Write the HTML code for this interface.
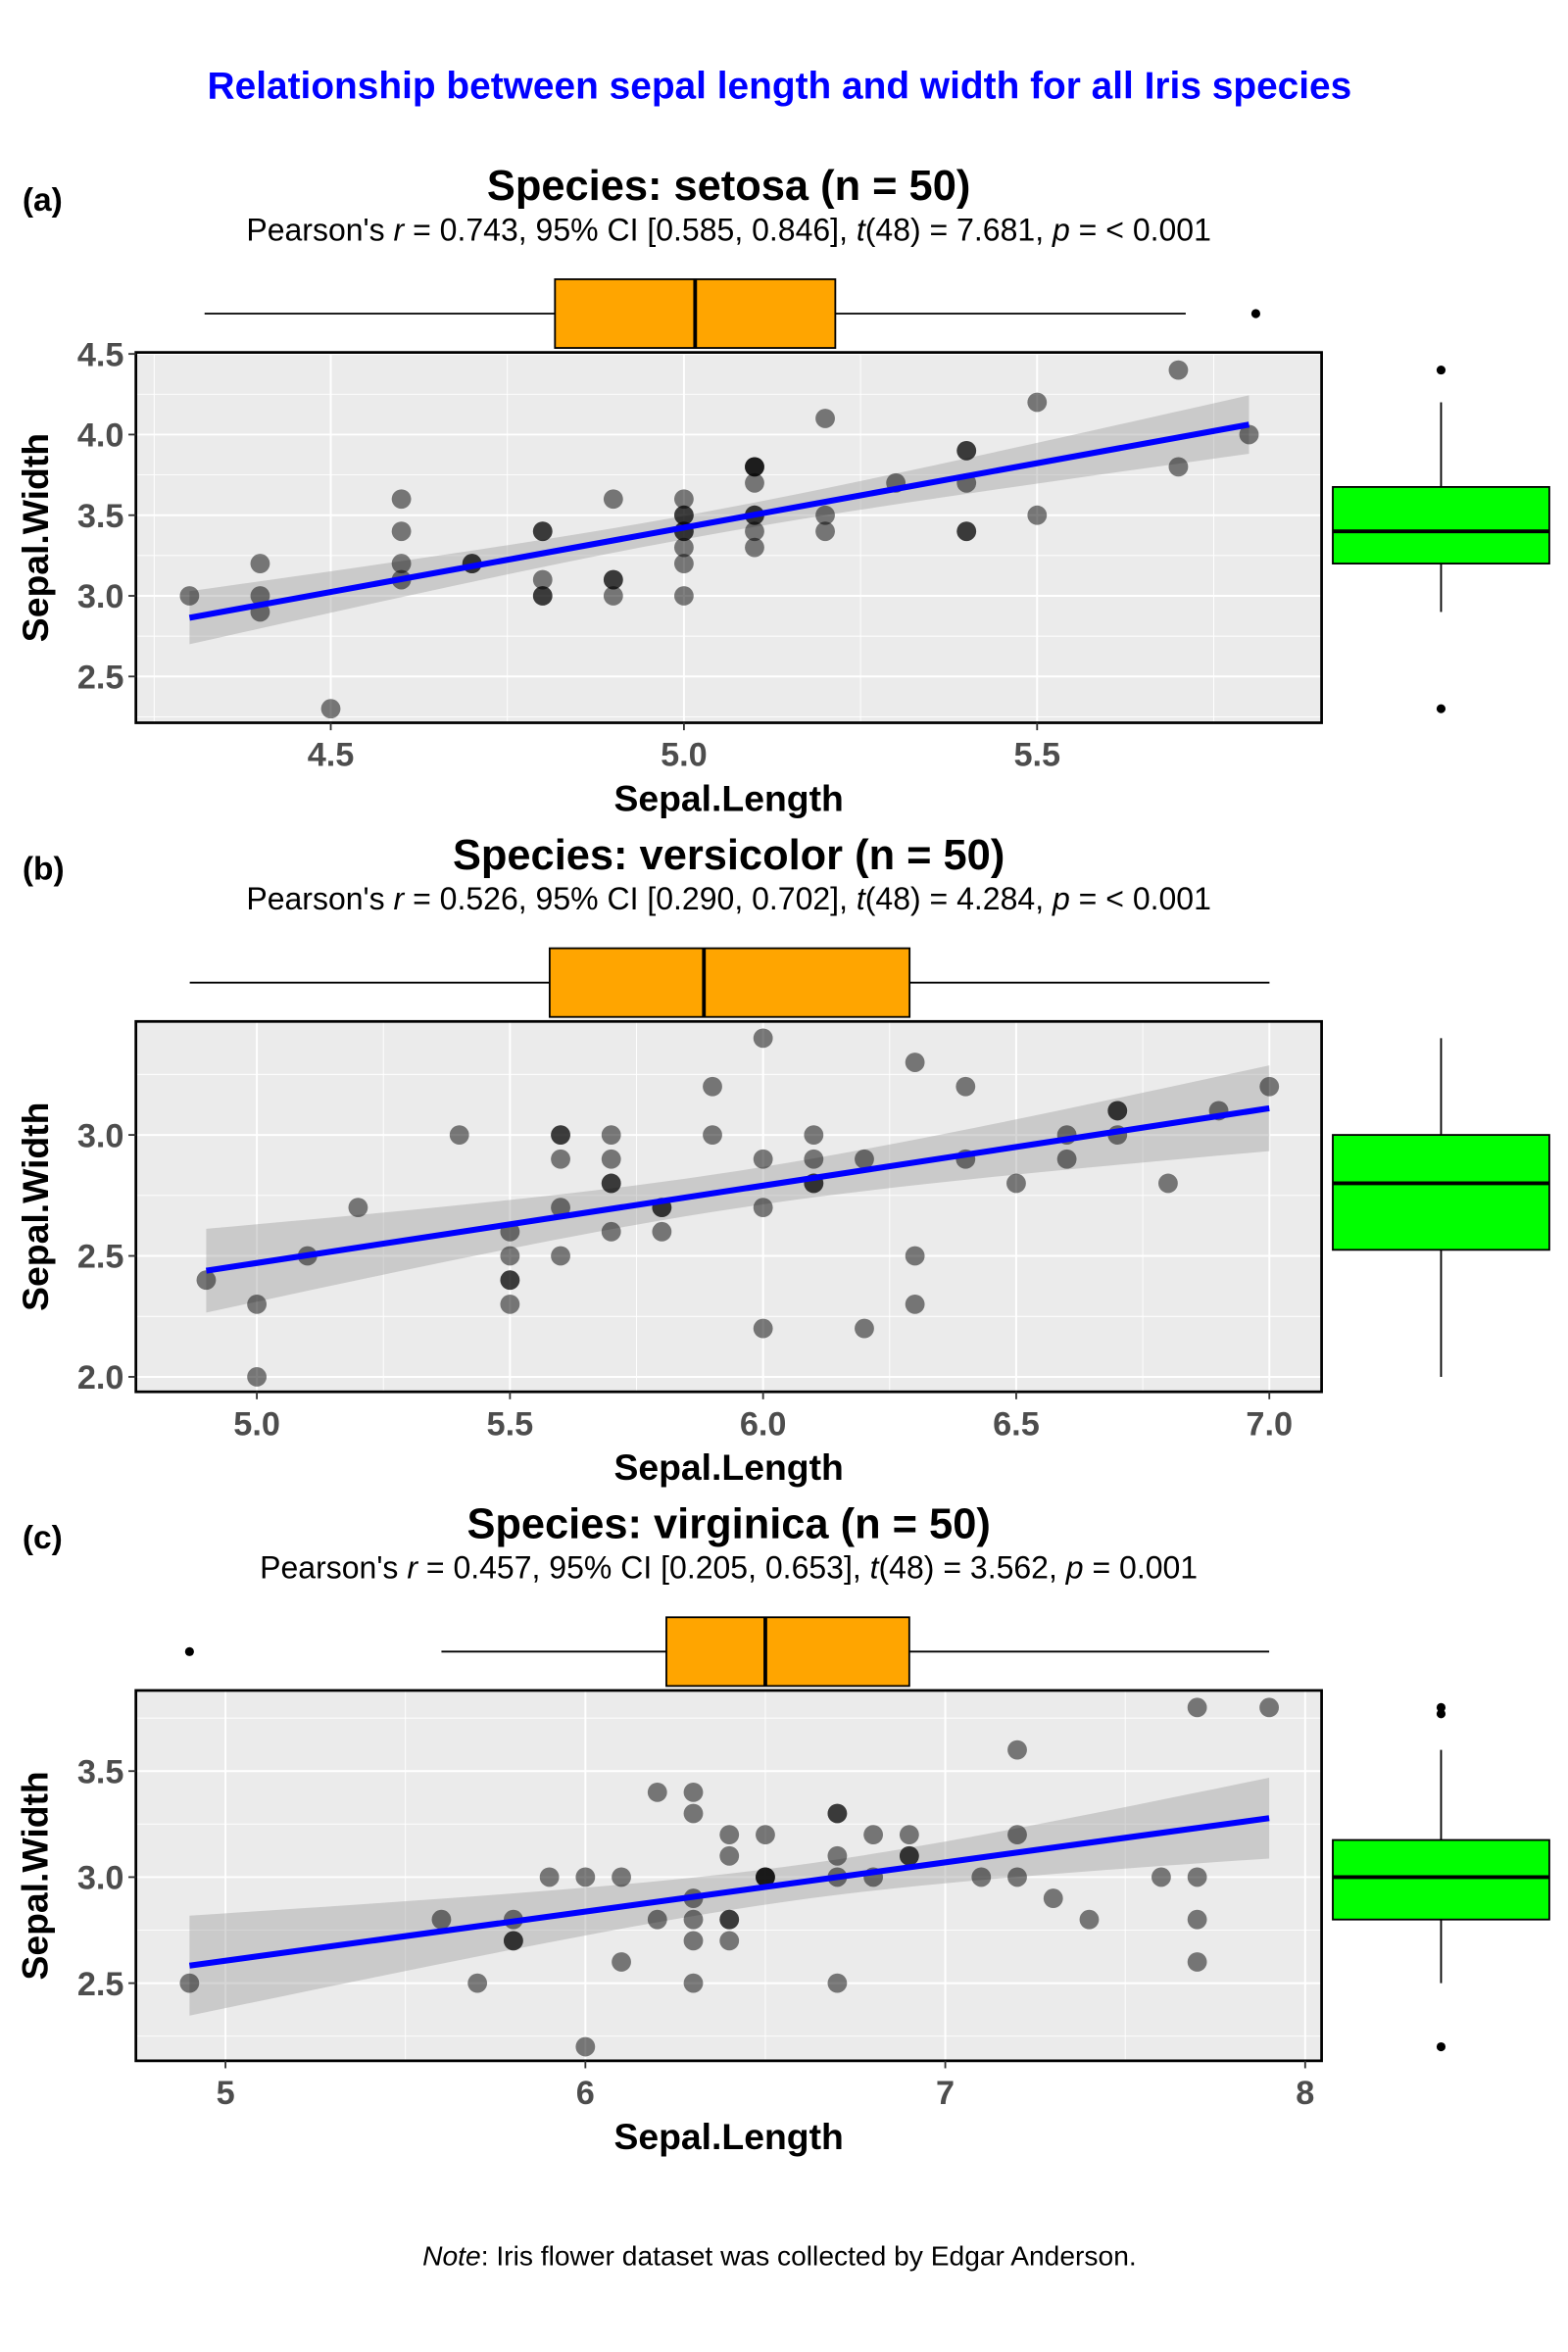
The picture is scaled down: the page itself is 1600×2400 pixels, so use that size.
<!DOCTYPE html>
<html><head><meta charset="utf-8">
<style>
html,body{margin:0;padding:0;background:#fff;}
svg{display:block;font-family:"Liberation Sans",Arial,sans-serif;}
</style></head>
<body>
<svg id="chart" width="1600" height="2400" viewBox="0 0 1050 1575" xmlns="http://www.w3.org/2000/svg">
<rect width="1050" height="1575" fill="#fff"/>
<text x="522" y="66" text-anchor="middle" font-size="25.5" font-weight="bold" fill="#0000ff">Relationship between sepal length and width for all Iris species</text>
<text x="522" y="1517" text-anchor="middle" font-size="18.5"><tspan font-style="italic">Note</tspan>: Iris flower dataset was collected by Edgar Anderson.</text>
</svg>
<script>
// ---- data ----
const setosaSL=[5.1,4.9,4.7,4.6,5.0,5.4,4.6,5.0,4.4,4.9,5.4,4.8,4.8,4.3,5.8,5.7,5.4,5.1,5.7,5.1,5.4,5.1,4.6,5.1,4.8,5.0,5.0,5.2,5.2,4.7,4.8,5.4,5.2,5.5,4.9,5.0,5.5,4.9,4.4,5.1,5.0,4.5,4.4,5.0,5.1,4.8,5.1,4.6,5.3,5.0];
const setosaSW=[3.5,3.0,3.2,3.1,3.6,3.9,3.4,3.4,2.9,3.1,3.7,3.4,3.0,3.0,4.0,4.4,3.9,3.5,3.8,3.8,3.4,3.7,3.6,3.3,3.4,3.0,3.4,3.5,3.4,3.2,3.1,3.4,4.1,4.2,3.1,3.2,3.5,3.6,3.0,3.4,3.5,2.3,3.2,3.5,3.8,3.0,3.8,3.2,3.7,3.3];
const versiSL=[7.0,6.4,6.9,5.5,6.5,5.7,6.3,4.9,6.6,5.2,5.0,5.9,6.0,6.1,5.6,6.7,5.6,5.8,6.2,5.6,5.9,6.1,6.3,6.1,6.4,6.6,6.8,6.7,6.0,5.7,5.5,5.5,5.8,6.0,5.4,6.0,6.7,6.3,5.6,5.5,5.5,6.1,5.8,5.0,5.6,5.7,5.7,6.2,5.1,5.7];
const versiSW=[3.2,3.2,3.1,2.3,2.8,2.8,3.3,2.4,2.9,2.7,2.0,3.0,2.2,2.9,2.9,3.1,3.0,2.7,2.2,2.5,3.2,2.8,2.5,2.8,2.9,3.0,2.8,3.0,2.9,2.6,2.4,2.4,2.7,2.7,3.0,3.4,3.1,2.3,3.0,2.5,2.6,3.0,2.6,2.3,2.7,3.0,2.9,2.9,2.5,2.8];
const virgSL=[6.3,5.8,7.1,6.3,6.5,7.6,4.9,7.3,6.7,7.2,6.5,6.4,6.8,5.7,5.8,6.4,6.5,7.7,7.7,6.0,6.9,5.6,7.7,6.3,6.7,7.2,6.2,6.1,6.4,7.2,7.4,7.9,6.4,6.3,6.1,7.7,6.3,6.4,6.0,6.9,6.7,6.9,5.8,6.8,6.7,6.7,6.3,6.5,6.2,5.9];
const virgSW=[3.3,2.7,3.0,2.9,3.0,3.0,2.5,2.9,2.5,3.6,3.2,2.7,3.0,2.5,2.8,3.2,3.0,3.8,2.6,2.2,3.2,2.8,2.8,2.7,3.3,3.2,2.8,3.0,2.8,3.0,2.8,3.8,2.8,2.8,2.6,3.0,3.4,3.1,3.0,3.1,3.1,3.1,2.7,3.2,3.3,3.0,2.5,3.0,3.4,3.0];
// box stats [lowWhisker, q1, median, q3, highWhisker]
const setosaXBox=[4.3,4.8,5.0,5.2,5.7], setosaXOut=[5.8];
const setosaYBox=[2.9,3.2,3.4,3.675,4.2], setosaYOut=[4.4,2.3];
const versiXBox=[4.9,5.6,5.9,6.3,7.0], versiXOut=[];
const versiYBox=[2.0,2.525,2.8,3.0,3.4], versiYOut=[];
const virgXBox=[5.6,6.225,6.5,6.9,7.9], virgXOut=[4.9];
const virgYBox=[2.5,2.8,3.0,3.175,3.6], virgYOut=[3.8,3.77,2.2];
const xTicksA=[4.5,5.0,5.5], yTicksA=[2.5,3.0,3.5,4.0,4.5];
const xTicksB=[5.0,5.5,6.0,6.5,7.0], yTicksB=[2.0,2.5,3.0];
const xTicksC=[5,6,7,8], yTicksC=[2.5,3.0,3.5];

const svg=document.getElementById('chart');
const NS='http://www.w3.org/2000/svg';
function mk(tag,attrs,parent){const e=document.createElementNS(NS,tag);for(const k in attrs)e.setAttribute(k,attrs[k]);(parent||svg).appendChild(e);return e;}

const panels=[
 {tag:'(a)',name:'setosa',sl:setosaSL,sw:setosaSW,xb:setosaXBox,xo:setosaXOut,yb:setosaYBox,yo:setosaYOut,
  xt:xTicksA,yt:yTicksA,dec:1,top:236,xv0:5.0,xp0:458,xs:473,yv0:2.5,yp0:453,ys:108,
  mx:v=>-1881+469.3*v, sub:["0.743","[0.585, 0.846]","7.681","< 0.001"]},
 {tag:'(b)',name:'versicolor',sl:versiSL,sw:versiSW,xb:versiXBox,xo:versiXOut,yb:versiYBox,yo:versiYOut,
  xt:xTicksB,yt:yTicksB,dec:1,top:684,xv0:5.0,xp0:172,xs:339,yv0:2.0,yp0:922,ys:162,
  mx:v=>-1560+344.3*v, sub:["0.526","[0.290, 0.702]","4.284","< 0.001"]},
 {tag:'(c)',name:'virginica',sl:virgSL,sw:virgSW,xb:virgXBox,xo:virgXOut,yb:virgYBox,yo:virgYOut,
  xt:xTicksC,yt:yTicksC,dec:0,top:1132,xv0:5,xp0:151,xs:241,yv0:2.5,yp0:1328,ys:142,
  mx:null, sub:["0.457","[0.205, 0.653]","3.562","0.001"]}
];

panels.forEach((P,i)=>{
 const L=91,R=885,T=P.top,B=P.top+248;
 const X=v=>P.xp0+(v-P.xv0)*P.xs, Y=v=>P.yp0-(v-P.yv0)*P.ys;
 const MX=P.mx||X;
 const g=mk('g',{});
 
 
 let t=mk('text',{x:15,y:T-95,'font-size':22,'font-weight':'bold'},g);t.textContent=P.tag;
 
 t=mk('text',{x:488,y:T-102,'text-anchor':'middle','font-size':28.5,'font-weight':'bold'},g);t.textContent='Species: '+P.name+' (n = 50)';
 
 t=mk('text',{x:488,y:T-75,'text-anchor':'middle','font-size':21,'textLength':0},g);
 t.removeAttribute('textLength');
 
 t.innerHTML="Pearson's <tspan font-style='italic'>r</tspan> = "+P.sub[0]+", 95% CI "+P.sub[1]+", <tspan font-style='italic'>t</tspan>(48) = "+P.sub[2]+", <tspan font-style='italic'>p</tspan> = "+P.sub[3];
 mk('rect',{x:L,y:T,width:R-L,height:B-T,fill:'#ebebeb'},g);
 const clip=mk('clipPath',{id:'clip'+i},g);mk('rect',{x:L,y:T,width:R-L,height:B-T},clip);
 const gg=mk('g',{'clip-path':'url(#clip'+i+')'},g);
 const xs=P.xt, xstep=xs[1]-xs[0];
 for(let v=xs[0]-xstep*1.5;v<=xs[xs.length-1]+xstep*1.5;v+=xstep/2){
  const major=Math.abs((v-xs[0])/xstep-Math.round((v-xs[0])/xstep))<1e-6;
  mk('line',{x1:X(v),x2:X(v),y1:T,y2:B,stroke:'#fff','stroke-width':major?1.3:0.6},gg);
 }
 const ys=P.yt, ystep=ys[1]-ys[0];
 for(let v=ys[0]-ystep*1.5;v<=ys[ys.length-1]+ystep*1.5;v+=ystep/2){
  const major=Math.abs((v-ys[0])/ystep-Math.round((v-ys[0])/ystep))<1e-6;
  mk('line',{x1:L,x2:R,y1:Y(v),y2:Y(v),stroke:'#fff','stroke-width':major?1.3:0.6},gg);
 }
 const n=P.sl.length; let mxv=0,myv=0;P.sl.forEach((v,k)=>{mxv+=v;myv+=P.sw[k];});mxv/=n;myv/=n;
 let sxx=0,sxy=0;P.sl.forEach((v,k)=>{sxx+=(v-mxv)**2;sxy+=(v-mxv)*(P.sw[k]-myv);});
 const b=sxy/sxx,a=myv-b*mxv;let sse=0;P.sl.forEach((v,k)=>{sse+=(P.sw[k]-a-b*v)**2;});
 const s=Math.sqrt(sse/(n-2)),tq=2.0106;
 const x0=Math.min(...P.sl),x1=Math.max(...P.sl);
 let up=[],lo=[];
 for(let k=0;k<=40;k++){const xv=x0+(x1-x0)*k/40;const yh=a+b*xv;const se=s*Math.sqrt(1/n+(xv-mxv)**2/sxx);
  up.push(X(xv)+','+Y(yh+tq*se));lo.unshift(X(xv)+','+Y(yh-tq*se));}
 const band=mk('polygon',{points:up.concat(lo).join(' '),fill:'#999','fill-opacity':0.4},gg);
 
 P.sl.forEach((v,k)=>{
  const c=mk('circle',{cx:X(v),cy:Y(P.sw[k]),r:6.5,fill:'#000','fill-opacity':0.5},gg);
  
 });
 const ln=mk('line',{x1:X(x0),y1:Y(a+b*x0),x2:X(x1),y2:Y(a+b*x1),stroke:'#0000ff','stroke-width':4},gg);
 
 mk('rect',{x:L,y:T,width:R-L,height:B-T,fill:'none',stroke:'#000','stroke-width':1.8},g);
 P.xt.forEach(v=>{mk('line',{x1:X(v),x2:X(v),y1:B,y2:B+5,stroke:'#333','stroke-width':1.2},g);
  const tx=mk('text',{x:X(v),y:B+29,'text-anchor':'middle','font-size':22.5,'font-weight':'bold',fill:'#4d4d4d'},g);tx.textContent=v.toFixed(P.dec);
  });
 P.yt.forEach(v=>{mk('line',{x1:L-5,x2:L,y1:Y(v),y2:Y(v),stroke:'#333','stroke-width':1.2},g);
  const tx=mk('text',{x:L-8,y:Y(v)+8,'text-anchor':'end','font-size':22.5,'font-weight':'bold',fill:'#4d4d4d'},g);tx.textContent=v.toFixed(1);
  });
 t=mk('text',{x:488,y:B+59,'text-anchor':'middle','font-size':24.5,'font-weight':'bold'},g);t.textContent='Sepal.Length';
 
 t=mk('text',{x:32,y:(T+B)/2,'text-anchor':'middle','font-size':24.5,'font-weight':'bold',transform:'rotate(-90 32 '+(T+B)/2+')'},g);t.textContent='Sepal.Width';
 
 const by=T-26,bh=46,xb=P.xb;
 const tb=mk('g',{},g);
 mk('line',{x1:MX(xb[0]),x2:MX(xb[1]),y1:by,y2:by,stroke:'#000','stroke-width':1.2},tb);
 mk('line',{x1:MX(xb[3]),x2:MX(xb[4]),y1:by,y2:by,stroke:'#000','stroke-width':1.2},tb);
 mk('rect',{x:MX(xb[1]),y:by-bh/2,width:MX(xb[3])-MX(xb[1]),height:bh,fill:'#ffa500',stroke:'#000','stroke-width':1.2},tb);
 mk('line',{x1:MX(xb[2]),x2:MX(xb[2]),y1:by-bh/2,y2:by+bh/2,stroke:'#000','stroke-width':2.5},tb);
 P.xo.forEach(v=>mk('circle',{cx:MX(v),cy:by,r:3,fill:'#000'},tb));
 const yb=P.yb,bx=965,bw=145;
 const rb=mk('g',{},g);
 mk('line',{x1:bx,x2:bx,y1:Y(yb[0]),y2:Y(yb[1]),stroke:'#000','stroke-width':1.2},rb);
 mk('line',{x1:bx,x2:bx,y1:Y(yb[3]),y2:Y(yb[4]),stroke:'#000','stroke-width':1.2},rb);
 mk('rect',{x:bx-bw/2,y:Y(yb[3]),width:bw,height:Y(yb[1])-Y(yb[3]),fill:'#00ff00',stroke:'#000','stroke-width':1.2},rb);
 mk('line',{x1:bx-bw/2,x2:bx+bw/2,y1:Y(yb[2]),y2:Y(yb[2]),stroke:'#000','stroke-width':2.5},rb);
 P.yo.forEach(v=>mk('circle',{cx:bx,cy:Y(v),r:3,fill:'#000'},rb));
});
</script>
</body></html>
